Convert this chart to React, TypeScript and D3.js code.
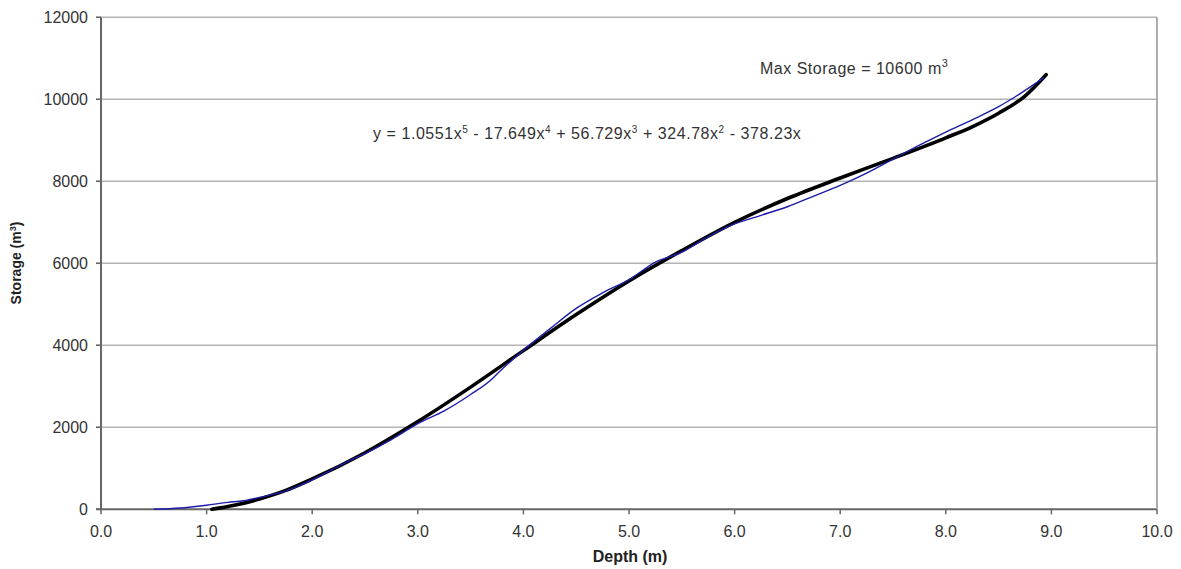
import React, { useEffect, useRef } from 'react';
import { select, scaleLinear, line, curveMonotoneX, range } from 'd3';

// measured depth / storage (blue) series
const depth = [0.5, 0.75, 1.0, 1.2, 1.35, 1.5, 1.75, 2.0, 2.25, 2.35, 2.5, 2.75, 3.0, 3.25, 3.5, 3.7, 3.75, 4.0, 4.25, 4.5, 4.75, 5.0, 5.25, 5.5, 5.75, 6.0, 6.25, 6.5, 6.75, 7.0, 7.25, 7.5, 7.75, 8.0, 8.25, 8.5, 8.65, 8.93];
const storage = [0, 30, 100, 170, 210, 290, 450, 720, 1050, 1180, 1360, 1700, 2090, 2400, 2800, 3170, 3300, 3880, 4400, 4900, 5280, 5600, 6030, 6270, 6650, 6960, 7170, 7380, 7640, 7900, 8200, 8540, 8880, 9200, 9500, 9820, 10050, 10530];

// polynomial trendline (black)
const trendDepth = [1.05, 1.25, 1.5, 1.75, 2.0, 2.5, 3.0, 3.5, 4.0, 4.5, 5.0, 5.5, 6.0, 6.5, 7.0, 7.5, 8.0, 8.25, 8.5, 8.75, 8.95];
const trendStorage = [0, 90, 250, 460, 740, 1380, 2140, 2980, 3870, 4750, 5570, 6310, 7000, 7580, 8080, 8560, 9060, 9330, 9660, 10080, 10600];

const xTicks = [0, 1, 2, 3, 4, 5, 6, 7, 8, 9, 10];
const yTicks = [0, 2000, 4000, 6000, 8000, 10000, 12000];

const FONT = '"Liberation Sans", Arial, sans-serif';

export default function App() {
  const ref = useRef<SVGSVGElement>(null);

  useEffect(() => {
    const svg = select(ref.current);
    svg.selectAll('*').remove();

    const margin = { left: 101, right: 24, top: 17.3, bottom: 59.7 };
    const W = 1181;
    const H = 569;

    const x = scaleLinear().domain([0, 10]).range([margin.left, W - margin.right]);
    const y = scaleLinear().domain([0, 12000]).range([H - margin.bottom, margin.top]);

    // gridlines
    svg.append('g')
      .selectAll('line')
      .data(yTicks)
      .join('line')
      .attr('x1', x(0) - 5)
      .attr('x2', x(10))
      .attr('y1', d => y(d))
      .attr('y2', d => y(d))
      .attr('stroke', d => (d === 0 ? '#666' : '#b4b4b4'))
      .attr('stroke-width', d => (d === 0 ? 2 : 1.6));

    // right border
    svg.append('line')
      .attr('x1', x(10)).attr('x2', x(10))
      .attr('y1', y(12000)).attr('y2', y(0))
      .attr('stroke', '#9a9a9a').attr('stroke-width', 1.6);

    // left axis
    svg.append('line')
      .attr('x1', x(0)).attr('x2', x(0))
      .attr('y1', y(12000)).attr('y2', y(0))
      .attr('stroke', '#666').attr('stroke-width', 2);

    // x ticks
    svg.append('g')
      .selectAll('line')
      .data(xTicks)
      .join('line')
      .attr('x1', d => x(d))
      .attr('x2', d => x(d))
      .attr('y1', y(0))
      .attr('y2', y(0) + 5)
      .attr('stroke', '#666')
      .attr('stroke-width', 1.5);

    // y ticks
    svg.append('g')
      .selectAll('line')
      .data(yTicks)
      .join('line')
      .attr('x1', x(0) - 5)
      .attr('x2', x(0))
      .attr('y1', d => y(d))
      .attr('y2', d => y(d))
      .attr('stroke', '#666')
      .attr('stroke-width', 1.5);

    // tick labels
    svg.append('g')
      .selectAll('text')
      .data(xTicks)
      .join('text')
      .attr('x', d => x(d))
      .attr('y', y(0) + 28)
      .attr('text-anchor', 'middle')
      .attr('font-family', FONT)
      .attr('font-size', 16)
      .attr('fill', '#333')
      .text(d => d.toFixed(1));

    svg.append('g')
      .selectAll('text')
      .data(yTicks)
      .join('text')
      .attr('x', x(0) - 13)
      .attr('y', d => y(d) + 6)
      .attr('text-anchor', 'end')
      .attr('font-family', FONT)
      .attr('font-size', 16)
      .attr('fill', '#333')
      .text(d => String(d));

    // axis titles
    svg.append('text')
      .attr('x', 630)
      .attr('y', 562)
      .attr('text-anchor', 'middle')
      .attr('font-family', FONT)
      .attr('font-size', 16)
      .attr('font-weight', 'bold')
      .attr('fill', '#222')
      .text('Depth (m)');

    const yt = svg.append('text')
      .attr('transform', 'translate(21,263) rotate(-90)')
      .attr('text-anchor', 'middle')
      .attr('font-family', FONT)
      .attr('font-size', 14)
      .attr('font-weight', 'bold')
      .attr('fill', '#222');
    yt.append('tspan').text('Storage (m');
    yt.append('tspan').attr('font-size', 9).attr('dy', -5).text('3');
    yt.append('tspan').attr('dy', 5).text(')');

    // data line
    const pts = range(depth.length).map(i => [depth[i], storage[i]] as [number, number]);
    const trend = range(trendDepth.length).map(i => [trendDepth[i], trendStorage[i]] as [number, number]);
    const ln = line<[number, number]>()
      .x(d => x(d[0]))
      .y(d => y(d[1]))
      .curve(curveMonotoneX);

    svg.append('path')
      .datum(trend)
      .attr('fill', 'none')
      .attr('stroke', '#000')
      .attr('stroke-width', 3.6)
      .attr('stroke-linecap', 'round')
      .attr('d', ln);

    svg.append('path')
      .datum(pts)
      .attr('fill', 'none')
      .attr('stroke', '#1c1ca8')
      .attr('stroke-width', 1.4)
      .attr('d', ln);

    // annotations
    const mx = svg.append('text')
      .attr('x', 760)
      .attr('y', 74)
      .attr('font-family', FONT)
      .attr('font-size', 16)
      .attr('letter-spacing', 0.5)
      .attr('fill', '#333');
    mx.append('tspan').text('Max Storage =  10600 m');
    mx.append('tspan').attr('font-size', 11).attr('dy', -7).text('3');

    const eq = svg.append('text')
      .attr('x', 373)
      .attr('y', 139)
      .attr('font-family', FONT)
      .attr('font-size', 16)
      .attr('letter-spacing', 0.55)
      .attr('fill', '#333');
    const parts: [string, string][] = [
      ['y = 1.0551x', '5'],
      [' - 17.649x', '4'],
      [' + 56.729x', '3'],
      [' + 324.78x', '2'],
      [' - 378.23x', ''],
    ];
    parts.forEach(([base, sup], i) => {
      eq.append('tspan').attr('dy', i === 0 ? 0 : 6).text(base);
      if (sup) eq.append('tspan').attr('font-size', 10).attr('dy', -6).text(sup);
    });
  }, []);

  return (
    <svg
      ref={ref}
      width={1181}
      height={569}
      style={{ position: 'absolute', left: 0, top: 0, background: '#fff' }}
    />
  );
}
